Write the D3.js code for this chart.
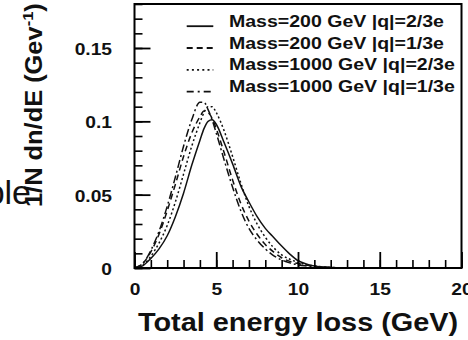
<!DOCTYPE html>
<html><head><meta charset="utf-8">
<script src="https://cdn.jsdelivr.net/npm/d3@7"></script>
<style>
html,body{margin:0;padding:0;background:#fff;}
svg{display:block;font-family:"Liberation Sans",Arial,Helvetica,sans-serif;}
</style></head>
<body>
<svg id="chart" width="468" height="340"></svg>
<script>
// ---- data ----
const energy = [0,0.5,1,1.5,2,2.5,3,3.5,4,4.25,4.5,4.75,5,5.5,6,6.5,7,7.5,8,8.5,9,9.5,10,10.5,11,12,13,14];
const m200q23  = [0,0.0015,0.0065,0.013,0.022,0.035,0.051,0.070,0.087,0.095,0.100,0.101,0.098,0.085,0.071,0.056,0.045,0.035,0.027,0.021,0.015,0.0095,0.005,0.0028,0.0014,0.0004,0.0001,0];
const m200q13  = [0,0.003,0.011,0.023,0.039,0.057,0.076,0.092,0.103,0.107,0.106,0.102,0.095,0.078,0.060,0.044,0.032,0.023,0.016,0.011,0.007,0.0045,0.003,0.002,0.001,0.0003,0,0];
const m1000q23 = [0,0.002,0.008,0.017,0.029,0.045,0.064,0.083,0.099,0.106,0.110,0.110,0.106,0.093,0.076,0.058,0.042,0.030,0.021,0.014,0.009,0.006,0.0038,0.0023,0.0014,0.0004,0.0001,0];
const m1000q13 = [0,0.003,0.012,0.025,0.042,0.062,0.083,0.101,0.113,0.113,0.108,0.101,0.092,0.073,0.055,0.039,0.027,0.019,0.013,0.0085,0.0055,0.0035,0.0022,0.0014,0.0008,0.0002,0,0];
const seriesNames = ["Mass=200 GeV |q|=2/3e","Mass=200 GeV |q|=1/3e","Mass=1000 GeV |q|=2/3e","Mass=1000 GeV |q|=1/3e"];
const seriesValues = [m200q23, m200q13, m1000q23, m1000q13];
const xTicks = [0,5,10,15,20];
const xMinor = d3.range(0,21,1);
const yTicks = [0,0.05,0.1,0.15];
const yTickLabels = ["0","0.05","0.1","0.15"];
const yMinor = d3.range(0,0.181,0.01);
const xTitle = "Total energy loss (GeV)";
const strayText = "ple";

// ---- styles ----
const dashes = [null, "6,4", "2,2.5", "8,3,2,3"];
const legendDashes = [null, "6,4", "2,3.2", "7,4,2,4"];

const svg = d3.select("#chart");
const L = 134.5, R = 461.5, T = 4, B = 268;
const x = d3.scaleLinear().domain([0,20]).range([L,R]);
const y = d3.scaleLinear().domain([0,0.18]).range([B,T]);

function stretch(sel, f){
  sel.each(function(){
    const w = this.getComputedTextLength();
    d3.select(this).attr("textLength", w*f).attr("lengthAdjust","spacingAndGlyphs");
  });
}

// curves
const line = d3.line().x((d,i)=>x(energy[i])).y(d=>y(d)).curve(d3.curveMonotoneX);
svg.append("g").selectAll("path").data(seriesValues).join("path")
  .attr("d", d=>line(d))
  .attr("fill","none").attr("stroke","#111").attr("stroke-width",1.5)
  .attr("stroke-dasharray",(d,i)=>dashes[i]);

// minor ticks
svg.append("g").attr("transform",`translate(${L},0)`)
  .call(d3.axisLeft(y).tickValues(yMinor).tickSize(-8).tickFormat(""))
  .call(g=>{g.select(".domain").remove(); g.selectAll("line").attr("stroke","#000").attr("stroke-width",1.6);});
svg.append("g").attr("transform",`translate(0,${B})`)
  .call(d3.axisBottom(x).tickValues(xMinor).tickSize(-8).tickFormat(""))
  .call(g=>{g.select(".domain").remove(); g.selectAll("line").attr("stroke","#000").attr("stroke-width",1.6);});

// major ticks
const gy = svg.append("g").attr("transform",`translate(${L},0)`)
  .call(d3.axisLeft(y).tickValues(yTicks).tickSize(-16).tickPadding(22.5).tickFormat((d,i)=>yTickLabels[i]));
gy.select(".domain").remove();
gy.selectAll("line").attr("stroke","#000").attr("stroke-width",1.8);
gy.selectAll("text").attr("font-size",16).attr("font-weight","bold").attr("fill","#111")
  .attr("font-family","Liberation Sans, Arial, sans-serif").attr("dy","0.4em");
stretch(gy.selectAll("text"),1.2);

const gx = svg.append("g").attr("transform",`translate(0,${B})`)
  .call(d3.axisBottom(x).tickValues(xTicks).tickSize(-16).tickPadding(15.5).tickFormat(d3.format("d")));
gx.select(".domain").remove();
gx.selectAll("line").attr("stroke","#000").attr("stroke-width",1.8);
gx.selectAll("text").attr("font-size",16).attr("font-weight","bold").attr("fill","#111")
  .attr("font-family","Liberation Sans, Arial, sans-serif");
stretch(gx.selectAll("text"),1.2);

// frame
svg.append("rect").attr("x",L).attr("y",T).attr("width",R-L).attr("height",B-T)
  .attr("fill","none").attr("stroke","#000").attr("stroke-width",2);

// legend
const lg = svg.append("g");
const rowsY = [26.7, 48.5, 70.3, 92.2];
seriesNames.forEach((name,i)=>{
  lg.append("line").attr("x1",186.7).attr("x2",213.3).attr("y1",rowsY[i]-0.5).attr("y2",rowsY[i]-0.5)
    .attr("stroke","#111").attr("stroke-width",1.8).attr("stroke-dasharray",legendDashes[i]);
  const t = lg.append("text").attr("x",229).attr("y",rowsY[i]).attr("font-size",16)
    .attr("font-weight","bold").attr("fill","#111").text(name);
  stretch(t,1.22);
});

// x title
const xt = svg.append("text").attr("x",138).attr("y",331).attr("font-size",26)
  .attr("font-weight","bold").attr("fill","#111").text(xTitle);
stretch(xt,1.11);

// y title
const yt = svg.append("text").attr("transform","translate(42,207) rotate(-90)")
  .attr("font-size",23).attr("font-weight","bold").attr("fill","#111");
yt.append("tspan").text("1/N dn/dE (Gev");
yt.append("tspan").attr("font-size",15).attr("dy",-9).text("-1");
yt.append("tspan").attr("dy",9).text(")");
// scale y title to measured length
(function(){
  const w = yt.node().getComputedTextLength();
  const f = 204 / w;
  yt.attr("transform",`translate(42,207) rotate(-90) scale(${f},1)`);
})();

// stray text fragment
svg.append("text").attr("x",31).attr("y",204).attr("text-anchor","end")
  .attr("font-size",34).attr("fill","#111").text(strayText);
</script>
</body></html>
